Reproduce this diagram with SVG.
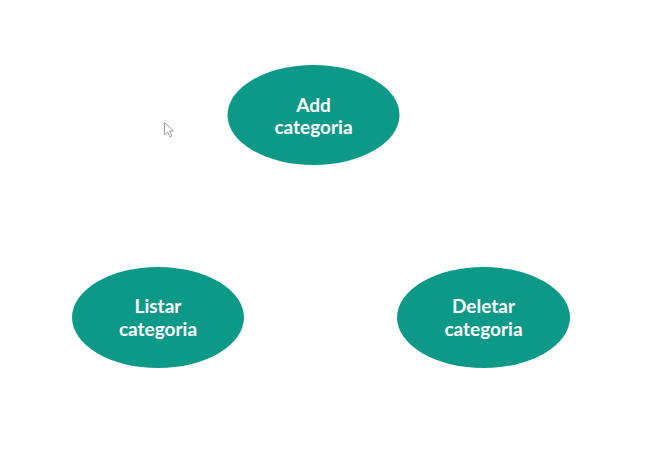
<svg xmlns="http://www.w3.org/2000/svg" width="660" height="463" viewBox="0 0 660 463">
<style>
.node ellipse{fill:#0c9987;}
.node text{fill:#ffffff;font-family:Lato,"Open Sans","Liberation Sans",sans-serif;font-weight:bold;font-size:19px;text-anchor:middle;}
</style>
<rect width="660" height="463" fill="#ffffff"/>
<g id="connectors"></g>
<g id="node-add" class="node">
<ellipse cx="313.5" cy="115" rx="86" ry="50"/>
<text x="313.5" y="112">Add</text>
<text x="313.5" y="134">categoria</text>
</g>
<g id="node-listar" class="node">
<ellipse cx="158" cy="317.5" rx="86" ry="50.5"/>
<text x="158" y="313">Listar</text>
<text x="158" y="336">categoria</text>
</g>
<g id="node-deletar" class="node">
<ellipse cx="483.5" cy="317.5" rx="86.5" ry="50.5"/>
<text x="483.5" y="313">Deletar</text>
<text x="483.5" y="336">categoria</text>
</g>
<g id="cursor">
<path d="M164.5 122.5 L164.5 135 L167.5 132 L170 137 L172 136 L169.5 131 L173.5 131 Z" fill="#ffffff" stroke="#888888" stroke-width="0.8"/>
</g>
</svg>
